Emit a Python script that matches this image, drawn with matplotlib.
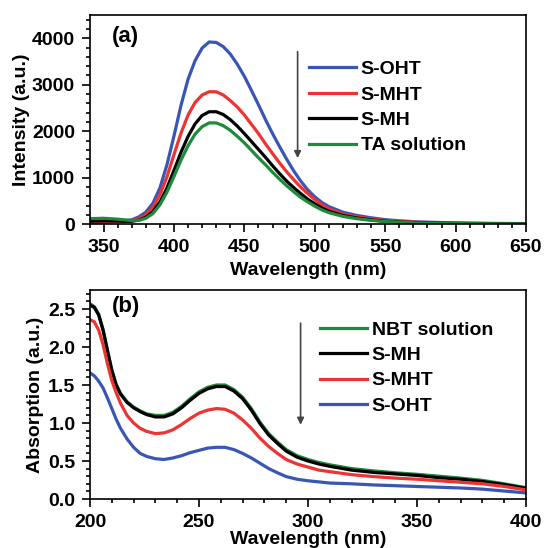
import numpy as np
import matplotlib
matplotlib.use('Agg')
import matplotlib.pyplot as plt

plt.rcParams['font.family'] = ['Liberation Sans', 'DejaVu Sans']
plt.rcParams['font.weight'] = 'bold'
plt.rcParams['axes.labelweight'] = 'bold'

# ---- panel (a): fluorescence of TA ----
wl_a = [340, 350, 360, 365, 370, 375, 380, 385, 390, 395, 400, 405, 410, 415, 420, 425,
        430, 435, 440, 445, 450, 455, 460, 465, 470, 475, 480, 485, 490, 495, 500, 505,
        510, 520, 530, 540, 550, 560, 575, 600, 625, 650]
oht_a = [60, 75, 80, 80, 95, 160, 260, 450, 780, 1280, 1900, 2560, 3120, 3520, 3790, 3920,
         3910, 3820, 3660, 3440, 3180, 2880, 2570, 2250, 1950, 1670, 1400, 1150, 930, 740, 590, 470,
         380, 260, 190, 140, 100, 75, 50, 30, 20, 15]
mht_a = [35, 45, 60, 65, 75, 120, 200, 360, 640, 1020, 1500, 1960, 2350, 2620, 2780, 2850,
         2850, 2780, 2660, 2520, 2350, 2150, 1950, 1730, 1520, 1320, 1130, 960, 800, 660, 530, 420,
         330, 220, 160, 115, 80, 60, 40, 25, 15, 10]
mh_a = [70, 75, 70, 65, 65, 90, 150, 270, 480, 780, 1160, 1550, 1890, 2160, 2340, 2420,
        2420, 2360, 2250, 2110, 1950, 1780, 1610, 1440, 1260, 1090, 930, 790, 660, 540, 440, 350,
        280, 190, 135, 95, 65, 48, 30, 18, 12, 8]
ta_a = [120, 130, 110, 95, 80, 85, 130, 230, 420, 690, 1030, 1380, 1690, 1940, 2100, 2180,
        2180, 2120, 2020, 1890, 1750, 1590, 1430, 1280, 1120, 970, 830, 700, 580, 480, 390, 310,
        250, 170, 120, 85, 60, 45, 28, 15, 10, 6]

# ---- panel (b): absorption of NBT ----
wl_b = [200, 202, 204, 206, 208, 210, 212, 214, 217, 220, 223, 226, 230, 234, 238, 242, 246,
        250, 254, 258, 262, 266, 270, 274, 278, 282, 286, 290, 295, 300, 305, 310, 320, 330,
        340, 350, 360, 370, 380, 390, 400]
nbt_b = [2.57, 2.53, 2.43, 2.23, 1.96, 1.70, 1.51, 1.39, 1.28, 1.21, 1.16, 1.12, 1.10, 1.10, 1.14,
         1.22, 1.32, 1.41, 1.47, 1.50, 1.50, 1.44, 1.34, 1.19, 1.01, 0.86, 0.75, 0.65, 0.57, 0.52,
         0.48, 0.45, 0.40, 0.37, 0.345, 0.325, 0.30, 0.275, 0.245, 0.20, 0.15]
mh_b = [2.55, 2.52, 2.42, 2.22, 1.95, 1.69, 1.50, 1.38, 1.27, 1.20, 1.15, 1.11, 1.08, 1.08, 1.12,
        1.20, 1.30, 1.39, 1.45, 1.48, 1.48, 1.42, 1.32, 1.17, 0.99, 0.84, 0.73, 0.63, 0.55, 0.50,
        0.46, 0.43, 0.38, 0.35, 0.33, 0.31, 0.28, 0.26, 0.23, 0.19, 0.14]
mht_b = [2.36, 2.33, 2.22, 2.03, 1.78, 1.56, 1.40, 1.26, 1.10, 1.00, 0.93, 0.89, 0.86, 0.87, 0.91,
         0.98, 1.06, 1.13, 1.17, 1.19, 1.18, 1.13, 1.04, 0.93, 0.80, 0.69, 0.60, 0.52, 0.46, 0.42,
         0.38, 0.36, 0.32, 0.295, 0.275, 0.26, 0.24, 0.22, 0.20, 0.165, 0.12]
oht_b = [1.66, 1.62, 1.55, 1.46, 1.33, 1.19, 1.05, 0.93, 0.79, 0.68, 0.60, 0.56, 0.53, 0.52, 0.54,
         0.57, 0.61, 0.64, 0.67, 0.68, 0.68, 0.65, 0.60, 0.54, 0.47, 0.40, 0.345, 0.295, 0.26, 0.24,
         0.225, 0.21, 0.20, 0.185, 0.175, 0.165, 0.155, 0.145, 0.13, 0.105, 0.08]

c_blue = '#3a56b4'
c_red = '#ee3333'
c_black = '#000000'
c_green = '#1f8a3c'
lw = 2.3

fig = plt.figure(figsize=(5.44, 5.48), dpi=100)
ax1 = fig.add_axes([89.5/544, 1-224.3/548, 436.5/544, 209.3/548])
ax2 = fig.add_axes([90/544, 1-499/548, 436/544, 209/548])

def style(ax):
    for s in ax.spines.values():
        s.set_linewidth(1.2)
    ax.minorticks_on()
    ax.tick_params(which='both', direction='out', top=False, right=False, labelsize=14, width=1.2)
    ax.tick_params(which='major', length=5.5, pad=5)
    ax.tick_params(which='minor', length=3)

ax1.plot(wl_a, oht_a, color=c_blue, lw=lw, label='S-OHT')
ax1.plot(wl_a, mht_a, color=c_red, lw=lw, label='S-MHT')
ax1.plot(wl_a, mh_a, color=c_black, lw=lw, label='S-MH')
ax1.plot(wl_a, ta_a, color=c_green, lw=lw, label='TA solution')
ax1.set_xlim(340, 650)
ax1.set_ylim(0, 4500)
ax1.set_xticks([350, 400, 450, 500, 550, 600, 650])
ax1.set_yticks([0, 1000, 2000, 3000, 4000])
ax1.xaxis.set_minor_locator(matplotlib.ticker.MultipleLocator(25))
ax1.yaxis.set_minor_locator(matplotlib.ticker.MultipleLocator(500))
style(ax1)
ax1.set_xlabel('Wavelength (nm)', fontsize=14)
ax1.set_ylabel('Intensity (a.u.)', fontsize=14)
ax1.xaxis.set_label_coords(0.5, -0.18)
ax1.yaxis.set_label_coords(-0.136, 0.5)
ax1.text(0.051, 0.896, '(a)', transform=ax1.transAxes, fontsize=16, va='center', ha='left')
ax1.legend(loc='upper left', bbox_to_anchor=(0.5036, 0.782), frameon=False, fontsize=14,
           handlelength=2.4, handletextpad=0.25, labelspacing=0.4, borderpad=0, borderaxespad=0)
ax1.annotate('', xy=(487.8, 1363), xytext=(487.8, 3771),
             arrowprops=dict(arrowstyle='-|>', color='#444444', lw=1.2, mutation_scale=10))

ax2.plot(wl_b, nbt_b, color=c_green, lw=lw, label='NBT solution')
ax2.plot(wl_b, mh_b, color=c_black, lw=lw, label='S-MH')
ax2.plot(wl_b, mht_b, color=c_red, lw=lw, label='S-MHT')
ax2.plot(wl_b, oht_b, color=c_blue, lw=lw, label='S-OHT')
ax2.set_xlim(200, 400)
ax2.set_ylim(0, 2.75)
ax2.set_xticks([200, 250, 300, 350, 400])
ax2.set_yticks([0.0, 0.5, 1.0, 1.5, 2.0, 2.5])
ax2.yaxis.set_major_formatter(matplotlib.ticker.FormatStrFormatter('%.1f'))
ax2.xaxis.set_minor_locator(matplotlib.ticker.MultipleLocator(25))
ax2.yaxis.set_minor_locator(matplotlib.ticker.MultipleLocator(0.25))
style(ax2)
ax2.set_xlabel('Wavelength (nm)', fontsize=14)
ax2.set_ylabel('Absorption (a.u.)', fontsize=14)
ax2.xaxis.set_label_coords(0.5, -0.152)
ax2.yaxis.set_label_coords(-0.105, 0.5)
ax2.text(0.05, 0.919, '(b)', transform=ax2.transAxes, fontsize=16, va='center', ha='left')
ax2.legend(loc='upper left', bbox_to_anchor=(0.5275, 0.852), frameon=False, fontsize=14,
           handlelength=2.4, handletextpad=0.25, labelspacing=0.4, borderpad=0, borderaxespad=0)
ax2.annotate('', xy=(296.6, 0.94), xytext=(296.6, 2.35),
             arrowprops=dict(arrowstyle='-|>', color='#444444', lw=1.2, mutation_scale=10))

fig.savefig('out.png', dpi=100)
